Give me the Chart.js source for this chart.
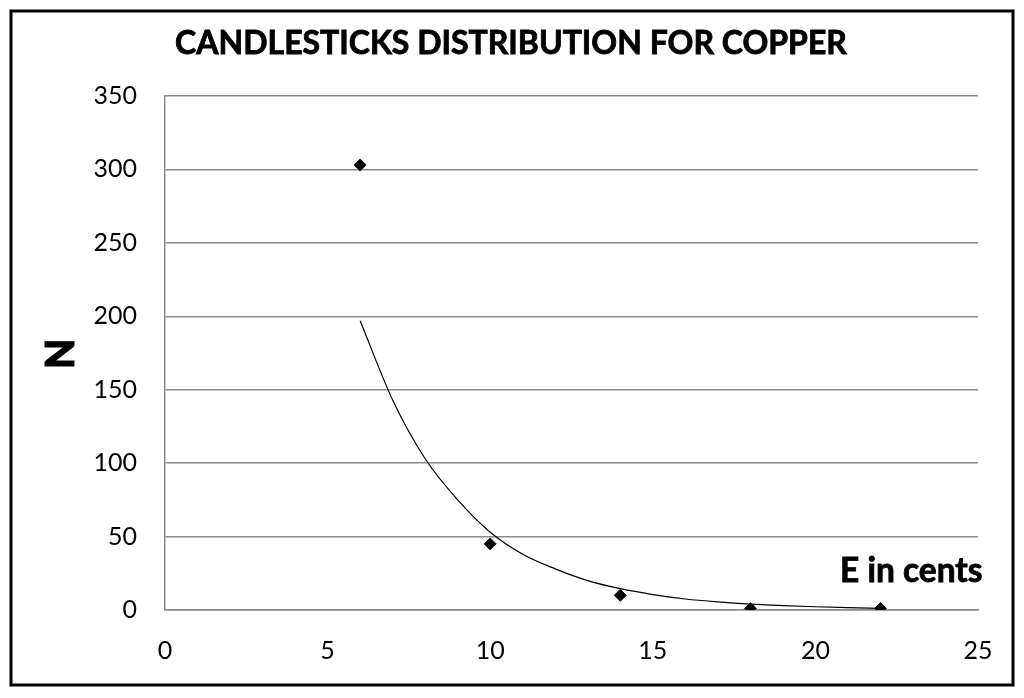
<!DOCTYPE html>
<html>
<head>
<meta charset="utf-8">
<script src="https://cdn.jsdelivr.net/npm/chart.js@4"></script>
<style>
  html, body { margin: 0; padding: 0; background: #fff; }
  #wrap { width: 1024px; height: 698px; position: relative; }
</style>
</head>
<body>
<div id="wrap"><canvas id="c" width="1024" height="698"></canvas></div>
<script>
// Observed data points (E in cents, N)
const pointX = [6, 10, 14, 18, 22];
const pointY = [303, 45, 10, 1, 1];

// Trend line values
const trendX = [6, 7, 8, 9, 10, 11, 12, 13, 14, 15, 16, 17, 18, 19, 20, 21, 22];
const trendY = [197, 143, 103, 75, 53, 38, 28, 20, 14.5, 10.5, 7.5, 5.5, 4, 3, 2.2, 1.6, 1.1];

const xTicks = [0, 5, 10, 15, 20, 25];
const yTicks = [0, 50, 100, 150, 200, 250, 300, 350];

const titleText = 'CANDLESTICKS DISTRIBUTION FOR COPPER';
const yTitle = 'N';
const xNote = 'E in cents';

const FONT = 'Lato, "Open Sans", sans-serif';

const decor = {
  id: 'decor',
  beforeDraw(chart) {
    const ctx = chart.ctx;
    ctx.save();
    ctx.fillStyle = '#fff';
    ctx.fillRect(0, 0, chart.width, chart.height);
    ctx.restore();
  },
  afterDraw(chart) {
    const ctx = chart.ctx;
    ctx.save();
    // outer border
    ctx.strokeStyle = '#000';
    ctx.lineWidth = 3;
    ctx.strokeRect(11, 11, 1002, 674);
    // title
    ctx.fillStyle = '#000';
    ctx.strokeStyle = '#000';
    ctx.textAlign = 'center';
    ctx.textBaseline = 'middle';
    ctx.font = 'bold 32px ' + FONT;
    ctx.lineWidth = 0.8;
    ctx.fillText(titleText, 511, 44);
    ctx.strokeText(titleText, 511, 44);
    // N axis title
    ctx.save();
    ctx.translate(61, 354);
    ctx.rotate(-Math.PI / 2);
    ctx.font = '900 39px ' + FONT;
    ctx.fillText(yTitle, 0, 0);
    ctx.lineWidth = 1;
    ctx.strokeText(yTitle, 0, 0);
    ctx.restore();
    // E in cents
    ctx.textAlign = 'left';
    ctx.font = 'bold 33.5px ' + FONT;
    ctx.lineWidth = 0.8;
    ctx.fillText(xNote, 840, 571);
    ctx.strokeText(xNote, 840, 571);
    ctx.restore();
  }
};

new Chart(document.getElementById('c'), {
  type: 'scatter',
  data: {
    datasets: [
      {
        label: 'trend',
        data: trendX.map((x, i) => ({ x: x, y: trendY[i] })),
        showLine: true,
        borderColor: '#000',
        borderWidth: 1.2,
        pointRadius: 0,
        fill: false,
        cubicInterpolationMode: 'monotone',
        order: 2
      },
      {
        label: 'N',
        data: pointX.map((x, i) => ({ x: x, y: pointY[i] })),
        pointStyle: 'rectRot',
        pointRadius: 6,
        pointBackgroundColor: '#000',
        pointBorderColor: '#0a1a2a',
        pointBorderWidth: 1,
        showLine: false,
        order: 1
      }
    ]
  },
  options: {
    responsive: false,
    animation: false,
    devicePixelRatio: 1,
    layout: { padding: { left: 0, right: 46, top: 96, bottom: 0 } },
    plugins: {
      legend: { display: false },
      tooltip: { enabled: false },
      title: { display: false }
    },
    scales: {
      x: {
        type: 'linear',
        min: 0, max: 25,
        afterBuildTicks(scale) { scale.ticks = xTicks.map(v => ({ value: v })); },
        afterFit(scale) { scale.height = 88; },
        grid: { display: false, drawTicks: false },
        border: { display: true, color: '#8a8a8a', width: 1.5 },
        ticks: {
          color: '#000',
          font: { family: FONT, size: 25 },
          padding: 26,
          maxRotation: 0
        }
      },
      y: {
        type: 'linear',
        min: 0, max: 350,
        afterBuildTicks(scale) { scale.ticks = yTicks.map(v => ({ value: v })); },
        afterFit(scale) { scale.width = 165; },
        grid: { display: true, color: '#8a8a8a', lineWidth: 1.5, drawTicks: false },
        border: { display: true, color: '#8a8a8a', width: 1.5 },
        ticks: {
          color: '#000',
          font: { family: FONT, size: 25 },
          padding: 28
        }
      }
    }
  },
  plugins: [decor]
});
</script>
</body>
</html>
